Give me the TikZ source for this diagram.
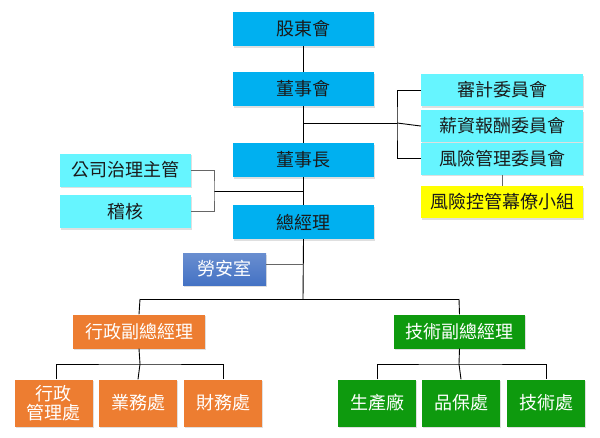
\documentclass[tikz,border=0pt]{standalone}
\usepackage{fontspec}
\setmainfont{Noto Sans CJK TC}
\usetikzlibrary{shadows}
\definecolor{topblue}{HTML}{00B0F0}
\definecolor{lcyan}{HTML}{66F5FF}
\definecolor{ylw}{HTML}{FFFF00}
\definecolor{laoblue}{HTML}{4472C4}
\definecolor{orng}{HTML}{ED7D31}
\definecolor{grn}{HTML}{0E9A0E}
\definecolor{txt}{HTML}{1A1A1A}
\tikzset{
  box/.style={draw=none, inner sep=0pt, align=center, font=\fontsize{18}{19}\selectfont,
    drop shadow={opacity=0.25, shadow xshift=1.2pt, shadow yshift=-1.5pt}},
  topbox/.style={box, fill=topblue, text=txt, minimum width=141pt, minimum height=34pt},
  combox/.style={box, fill=lcyan, text=txt, minimum width=162pt, minimum height=32pt},
  sidebox/.style={box, fill=lcyan, text=txt, minimum width=131pt, minimum height=33pt},
  ylwbox/.style={box, fill=ylw, text=txt, minimum width=162pt, minimum height=32pt},
  laobox/.style={box, top color=laoblue!80!white, bottom color=laoblue, text=white, minimum width=83pt, minimum height=32pt},
  orbox/.style={box, fill=orng, text=white, minimum width=132pt, minimum height=34pt},
  grbox/.style={box, fill=grn, text=white, minimum width=131pt, minimum height=34pt},
  orsub/.style={box, fill=orng, text=white, minimum width=78pt, minimum height=47pt},
  grsub/.style={box, fill=grn, text=white, minimum width=78pt, minimum height=47pt},
  conn/.style={draw=black, line width=0.9pt},
  gconn/.style={draw=gray!80!black, line width=0.9pt},
}
\begin{document}
\begin{tikzpicture}[x=1pt,y=-1pt]
\useasboundingbox (0,0) rectangle (600,437);
\coordinate (j1) at (303,123);
\coordinate (b1) at (397,123);
\coordinate (j2) at (303,191);
\coordinate (b2) at (214,191);
\coordinate (j3) at (303,264);
\coordinate (la3) at (266,264);
\coordinate (j4) at (303,299);
\coordinate (l4) at (140,299);
\coordinate (r4) at (459,299);
\coordinate (j5) at (140,364);
\coordinate (j6) at (459,364);

\node[topbox] (gd) at (303.5,29) {股東會};
\node[topbox] (dsh) at (303.5,89) {董事會};
\node[topbox] (dsz) at (303.5,160) {董事長};
\node[topbox] (zjl) at (303.5,222) {總經理};

\node[combox] (sj) at (502,90) {審計委員會};
\node[combox] (xz) at (502,126) {薪資報酬委員會};
\node[combox] (fx) at (502,158.5) {風險管理委員會};
\node[ylwbox] (fk) at (502,202) {風險控管幕僚小組};

\node[sidebox] (gs) at (125,170) {公司治理主管};
\node[sidebox] (jh) at (125,211.5) {稽核};

\node[laobox] (la) at (224.5,269) {勞安室};

\node[orbox] (xzf) at (139,331.5) {行政副總經理};
\node[grbox] (jsf) at (459.5,331.5) {技術副總經理};

\node[orsub] (xg) at (54,403) {行政\\管理處};
\node[orsub] (yw) at (138,403) {業務處};
\node[orsub] (cw) at (223,403) {財務處};
\node[grsub] (sc) at (377,403) {生產廠};
\node[grsub] (pb) at (461,403) {品保處};
\node[grsub] (js) at (546,403) {技術處};

\draw[conn] (gd.south) -- (dsh.north);
\draw[conn] (dsh.south) -- (dsz.north);
\draw[conn] (j1) -- (b1);
\draw[conn] (sj.west) -| (b1) |- (fx.west);
\draw[conn] (b1) -- (xz.west);
\draw[gconn] (fx.south) -- (fk.north);
\draw[conn] (dsz.south) -- (zjl.north);
\draw[conn] (j2) -- (b2);
\draw[gconn] (gs.east) -| (b2) |- (jh.east);
\draw[conn] (zjl.south) -- (j4);
\draw[gconn] (la3) -- (j3);
\draw[conn] (l4) -- (r4);
\draw[conn] (l4) -- (xzf.north);
\draw[conn] (r4) -- (jsf.north);
\draw[conn] (xzf.south) -- (j5);
\draw[conn] ([xshift=2pt]xg.north) |- (j5) -| (cw.north);
\draw[conn] (j5) -- (yw.north);
\draw[conn] (jsf.south) -- (j6);
\draw[conn] (sc.north) |- (j6) -| (js.north);
\draw[conn] (j6) -- (pb.north);
\end{tikzpicture}
\end{document}
